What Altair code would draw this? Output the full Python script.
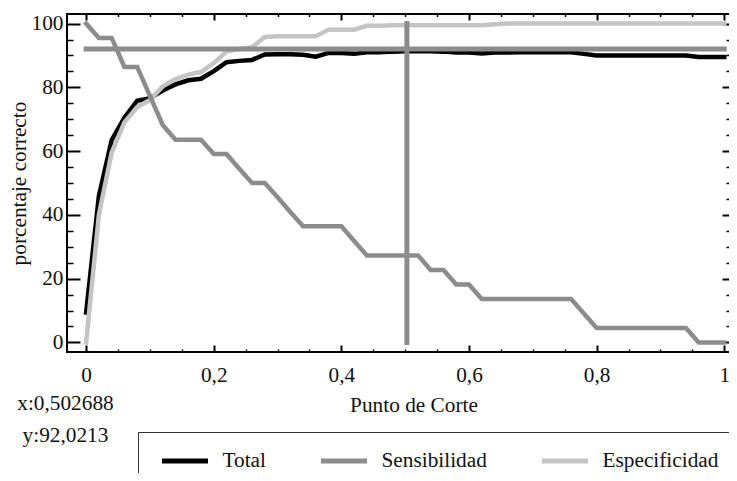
import altair as alt
import pandas as pd

# ---- data ----
cut_points = [0.00, 0.02, 0.04, 0.06, 0.08, 0.10, 0.12, 0.14, 0.16, 0.18,
              0.20, 0.22, 0.24, 0.26, 0.28, 0.30, 0.32, 0.34, 0.36, 0.38,
              0.40, 0.42, 0.44, 0.46, 0.48, 0.50, 0.52, 0.54, 0.56, 0.58,
              0.60, 0.62, 0.64, 0.66, 0.68, 0.70, 0.72, 0.74, 0.76, 0.78,
              0.80, 0.82, 0.84, 0.86, 0.88, 0.90, 0.92, 0.94, 0.96, 0.98, 1.00]

total = [9.4, 46.0, 63.5, 70.5, 75.8, 76.6, 79.0, 80.9, 82.2, 82.7,
         85.1, 87.9, 88.3, 88.6, 90.3, 90.4, 90.4, 90.2, 89.6, 90.8,
         90.8, 90.5, 91.0, 91.0, 91.2, 91.3, 91.4, 91.3, 91.2, 90.9,
         90.9, 90.6, 90.9, 90.9, 91.0, 91.0, 91.0, 91.0, 91.0, 90.5,
         90.0, 90.0, 90.0, 90.0, 90.0, 90.0, 90.0, 90.0, 89.5, 89.5, 89.5]

sensibilidad = [100.0, 95.5, 95.5, 86.4, 86.4, 77.3, 68.2, 63.6, 63.6, 63.6,
                59.1, 59.1, 54.5, 50.0, 50.0, 45.5, 40.9, 36.4, 36.4, 36.4,
                36.4, 31.8, 27.3, 27.3, 27.3, 27.3, 27.3, 22.7, 22.7, 18.2,
                18.2, 13.6, 13.6, 13.6, 13.6, 13.6, 13.6, 13.6, 13.6, 9.1,
                4.5, 4.5, 4.5, 4.5, 4.5, 4.5, 4.5, 4.5, 0.0, 0.0, 0.0]

especificidad = [0.0, 40.0, 59.5, 69.0, 73.8, 76.0, 80.3, 82.6, 84.0, 84.8,
                 87.6, 91.2, 92.0, 92.6, 95.8, 96.0, 96.0, 96.0, 96.0, 98.1,
                 98.1, 98.1, 99.3, 99.3, 99.5, 99.5, 99.5, 99.5, 99.5, 99.5,
                 99.5, 99.5, 99.8, 100.0, 100.0, 100.0, 100.0, 100.0, 100.0, 100.0,
                 100.0, 100.0, 100.0, 100.0, 100.0, 100.0, 100.0, 100.0, 100.0, 100.0, 100.0]

cut_x = 0.502688
cut_y = 92.0213
hline_span = [0.0, 1.0]
vline_span = [0.0, 100.0]

series_names = ["Total", "Sensibilidad", "Especificidad"]
series_colors = ["#000000", "#8c8c8c", "#c4c4c4"]

x_major = [0, 0.2, 0.4, 0.6, 0.8, 1.0]
x_minor = [0.05, 0.1, 0.15, 0.25, 0.3, 0.35, 0.45, 0.5, 0.55,
           0.65, 0.7, 0.75, 0.85, 0.9, 0.95]
y_major = [0, 20, 40, 60, 80, 100]
y_minor = [5, 10, 15, 25, 30, 35, 45, 50, 55, 65, 70, 75, 85, 90, 95]

x_title = "Punto de Corte"
y_title = "porcentaje correcto"

# ---- build tables ----
rows = []
for name, vals in [("Total", total), ("Especificidad", especificidad),
                   ("Sensibilidad", sensibilidad)]:
    for c, v in zip(cut_points, vals):
        rows.append({"cut": c, "value": v, "serie": name})
df = pd.DataFrame(rows)

hline_df = pd.DataFrame({"x0": [hline_span[0]], "x1": [hline_span[1]], "yv": [cut_y]})
vline_df = pd.DataFrame({"xv": [cut_x], "y0": [vline_span[0]], "y1": [vline_span[1]]})

FONT = "Liberation Serif"
FS = 21.3
TXT = "#111111"
W, H = 670, 338

xs = alt.Scale(domain=[-0.03, 1.02], nice=False, zero=False)
ys = alt.Scale(domain=[-3, 103], nice=False, zero=False)


def tick_axis(orient, values, size, offset, width=2):
    return alt.Axis(orient=orient, values=values, tickSize=size, offset=offset,
                    domain=False, grid=False, labels=False, ticks=True,
                    tickColor="black", tickWidth=width)


x_main_axis = alt.Axis(
    orient="bottom", values=x_major, tickSize=7, offset=-7, domain=False,
    grid=False, tickColor="black", tickWidth=2,
    labelExpr="replace(format(datum.value, '~g'), '.', ',')",
    labelFont=FONT, labelFontSize=FS, labelColor=TXT, labelPadding=12,
    labelFlush=False, labelOverlap=False,
    titleFont=FONT, titleFontSize=FS, titleFontWeight="normal", titleColor=TXT,
    titleX=346.5, titleY=66, titleAlign="center", titleBaseline="alphabetic")

y_main_axis = alt.Axis(
    orient="left", values=y_major, tickSize=13, offset=-13, domain=False,
    grid=False, tickColor="black", tickWidth=2,
    labelFont=FONT, labelFontSize=FS, labelColor=TXT, labelPadding=4,
    labelFlush=False, labelOverlap=False,
    titleFont=FONT, titleFontSize=FS, titleFontWeight="normal", titleColor=TXT,
    titleX=-61, titleY=H / 2, titleAlign="center", titleBaseline="middle")

legend = alt.Legend(
    orient="none", legendX=71, legendY=418, direction="horizontal", title=None,
    symbolType="stroke", symbolSize=2116, symbolStrokeWidth=5, symbolOffset=3,
    clipHeight=21,
    labelFont=FONT, labelFontSize=FS, labelColor=TXT, labelOffset=12,
    columnPadding=49, padding=18.5, strokeColor="#333333")

lines = alt.Chart(df).mark_line(strokeWidth=4.5, strokeCap="square").encode(
    x=alt.X("cut:Q", scale=xs, axis=x_main_axis, title=x_title),
    y=alt.Y("value:Q", scale=ys, axis=y_main_axis, title=y_title),
    color=alt.Color("serie:N", scale=alt.Scale(domain=series_names, range=series_colors),
                    legend=legend),
)

hrule = alt.Chart(hline_df).mark_rule(color="#8c8c8c", strokeWidth=5, strokeCap="square").encode(
    x=alt.X("x0:Q", scale=xs, axis=tick_axis("bottom", x_minor, 3, -3, 1.5), title=None),
    x2="x1:Q",
    y=alt.Y("yv:Q", scale=ys, axis=tick_axis("left", y_minor, 6, -6, 1.5), title=None),
)

vrule = alt.Chart(vline_df).mark_rule(color="#8c8c8c", strokeWidth=5, strokeCap="square").encode(
    x=alt.X("xv:Q", scale=xs, axis=tick_axis("top", x_major, 6, -6), title=None),
    y=alt.Y("y0:Q", scale=ys, axis=tick_axis("right", y_major, 7, -15), title=None),
    y2="y1:Q",
)

ghost = alt.Chart(df).mark_point(opacity=0).encode(
    x=alt.X("cut:Q", scale=xs, axis=tick_axis("top", x_minor, 2.5, -2.5, 1.5), title=None),
    y=alt.Y("value:Q", scale=ys, axis=tick_axis("right", y_minor, 3, -11, 1.5), title=None),
)

txt_x = pd.DataFrame({"t": ["x:" + str(cut_x).replace(".", ",")]})
txt_y = pd.DataFrame({"t": ["y:" + str(cut_y).replace(".", ",")]})

ann_x = alt.Chart(txt_x).mark_text(font=FONT, fontSize=FS, color=TXT, align="center",
                                   baseline="middle").encode(
    text="t:N", x=alt.value(-1.5), y=alt.value(390.4))
ann_y = alt.Chart(txt_y).mark_text(font=FONT, fontSize=FS, color=TXT, align="center",
                                   baseline="middle").encode(
    text="t:N", x=alt.value(-1.5), y=alt.value(421.7))

chart = alt.layer(lines, hrule, vrule, ghost, ann_x, ann_y).resolve_axis(
    x="independent", y="independent"
).properties(
    width=W, height=H,
    autosize=alt.AutoSizeParams(type="none"),
    padding={"left": 59, "top": 6, "right": -8, "bottom": 121},
    background="white",
).configure_view(stroke="black", strokeWidth=2)

chart.save("out.html", embed_options={"renderer": "svg", "actions": False})
